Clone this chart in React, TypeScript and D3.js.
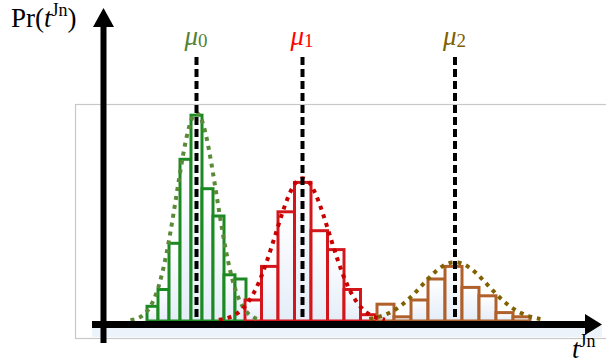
import React from 'react'
import * as d3 from 'd3'

// bin edges (t units) and bar heights (probability) for each histogram
const greenEdges = [8.8, 11.0, 13.2, 15.4, 17.6, 19.8, 22.0, 24.2, 26.4, 28.6]
const greenValues = [0.07, 0.15, 0.37, 0.77, 0.98, 0.63, 0.5, 0.22, 0.2]
const redEdges = [28.4, 31.7, 35.0, 38.3, 41.6, 44.9, 48.2, 51.5, 54.8]
const redValues = [0.1, 0.26, 0.52, 0.66, 0.43, 0.34, 0.15, 0.03]
const brownEdges = [54.8, 58.2, 61.6, 65.0, 68.4, 71.8, 75.2, 78.6, 82.0, 85.4]
const brownValues = [0.08, 0.02, 0.1, 0.2, 0.26, 0.16, 0.12, 0.04, 0.02]

// fitted gaussians: mean, spread, peak height, drawn extent (in spreads)
const mus = [18.7, 39.9, 70.4]
const sigmas = [4.0, 5.4, 6.6]
const peaks = [0.99, 0.68, 0.28]
const extents = [3.3, 3.1, 2.6]
const muLabels = ['0', '1', '2']

const W = 606
const H = 364

const x = d3.scaleLinear().domain([0, 100]).range([103, 603])
const y = d3.scaleLinear().domain([0, 1]).range([321, 111])

const barColors = ['#1f8a24', '#d3191c', '#b0602a']
const curveColors = ['#5a8a38', '#c80000', '#806000']
const labelColors = ['#548235', '#ff0000', '#7f6000']

const series = [
  { edges: greenEdges, values: greenValues },
  { edges: redEdges, values: redValues },
  { edges: brownEdges, values: brownValues },
]

function gaussPath(i: number) {
  const mu = mus[i], s = sigmas[i], p = peaks[i], e = extents[i]
  const ts = d3.range(mu - e * s, mu + e * s + 0.01, 0.25)
  const line = d3.line<number>()
    .x(t => x(t))
    .y(t => y(p * Math.exp(-((t - mu) ** 2) / (2 * s * s))))
    .curve(d3.curveBasis)
  return line(ts) || ''
}

export default function App() {
  const serif = '"Liberation Serif", "DejaVu Serif", serif'
  return (
    <svg width={W} height={H} style={{ position: 'absolute', left: 0, top: 0, background: '#fff' }}>
      <defs>
        <linearGradient id="barFill" x1="0" y1="0" x2="0" y2="1">
          <stop offset="0" stopColor="#ffffff" />
          <stop offset="1" stopColor="#e4edf8" />
        </linearGradient>
        <filter id="soft" x="-10%" y="-10%" width="120%" height="120%">
          <feGaussianBlur stdDeviation="0.6" />
        </filter>
      </defs>

      {/* grey frame */}
      <rect x={75.5} y={104.5} width={560} height={234} fill="#fff" stroke="#c8c8c8" strokeWidth={1.2} />
      <rect x={92} y={326} width={510} height={11} fill="#edf3fb" />

      {/* histograms */}
      <g filter="url(#soft)">
        {series.map((s, si) =>
          s.values.map((v, i) => (
            <rect
              key={si + '-' + i}
              x={x(s.edges[i])}
              y={y(v)}
              width={x(s.edges[i + 1]) - x(s.edges[i])}
              height={y(0) - y(v)}
              fill="url(#barFill)"
              stroke={barColors[si]}
              strokeWidth={3}
            />
          ))
        )}
      </g>

      {/* dotted gaussian fits */}
      {mus.map((_, i) => (
        <path
          key={'c' + i}
          d={gaussPath(i)}
          fill="none"
          stroke={curveColors[i]}
          strokeWidth={4}
          strokeDasharray="4 5"
        />
      ))}

      {/* mean markers */}
      {mus.map((m, i) => (
        <line
          key={'m' + i}
          x1={x(m)}
          x2={x(m)}
          y1={57}
          y2={y(0)}
          stroke="#000"
          strokeWidth={4}
          strokeDasharray="8 4"
        />
      ))}
      {mus.map((m, i) => (
        <text key={'l' + i} x={x(m) - 12} y={45} fill={labelColors[i]} fontFamily={serif} fontSize={27}>
          <tspan fontStyle="italic">μ</tspan>
          <tspan fontSize={19} dy={2}>{muLabels[i]}</tspan>
        </text>
      ))}

      {/* axes */}
      <line x1={92} x2={588} y1={324.5} y2={324.5} stroke="#000" strokeWidth={7} />
      <polygon points="585,314 602,324.5 585,335" fill="#000" />
      <line x1={103.5} x2={103.5} y1={343} y2={25} stroke="#000" strokeWidth={6} />
      <polygon points="93,27 103.5,8 114,27" fill="#000" />

      <text x={11} y={27} fontFamily={serif} fontSize={27} fill="#000">
        Pr(<tspan fontStyle="italic">t</tspan>
        <tspan fontSize={18} dy={-11}>Jn</tspan>
        <tspan dy={11}>)</tspan>
      </text>
      <text x={572} y={358} fontFamily={serif} fontSize={27} fill="#000">
        <tspan fontStyle="italic">t</tspan>
        <tspan fontSize={18} dy={-11}>Jn</tspan>
      </text>
    </svg>
  )
}
